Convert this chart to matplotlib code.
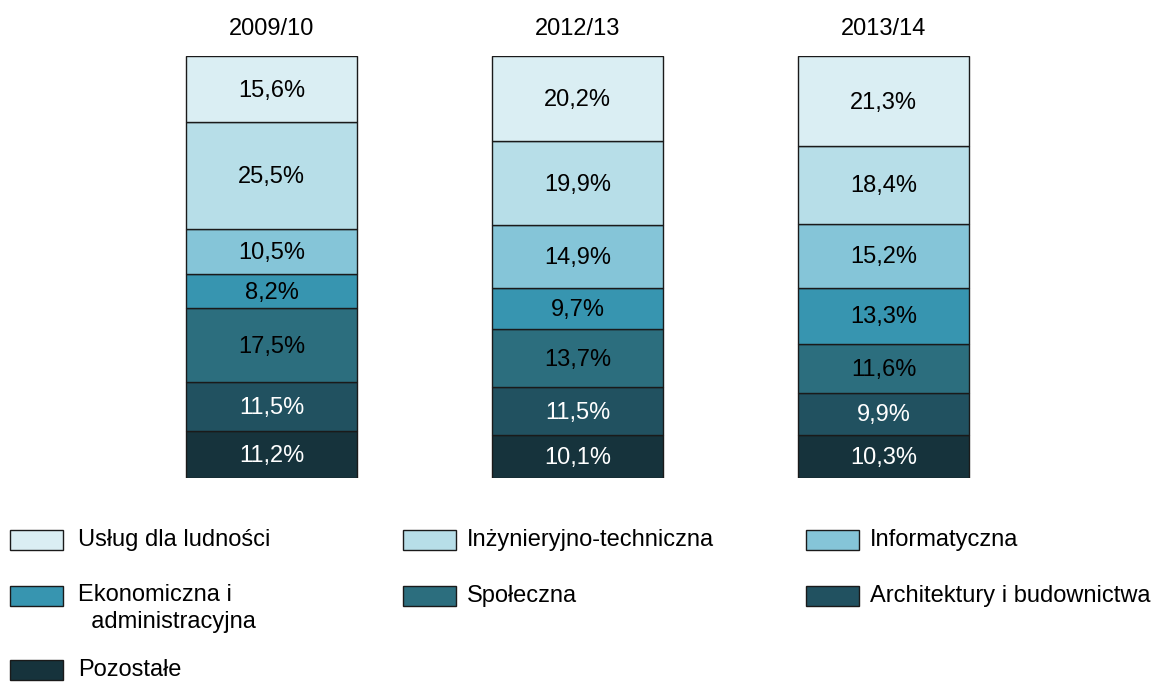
import matplotlib.pyplot as plt
from matplotlib.patches import Rectangle

plt.rcParams['font.family'] = ['Liberation Sans', 'DejaVu Sans']

years = ["2009/10", "2012/13", "2013/14"]
# bottom to top
categories = [
    "Pozostałe",
    "Architektury i budownictwa",
    "Społeczna",
    "Ekonomiczna i\n  administracyjna",
    "Informatyczna",
    "Inżynieryjno-techniczna",
    "Usług dla ludności",
]
values = [
    [11.2, 10.1, 10.3],
    [11.5, 11.5, 9.9],
    [17.5, 13.7, 11.6],
    [8.2, 9.7, 13.3],
    [10.5, 14.9, 15.2],
    [25.5, 19.9, 18.4],
    [15.6, 20.2, 21.3],
]
colors = ["#16333c", "#215160", "#2c6e7e", "#3795b0", "#85c5d8", "#b7dee8", "#daeef3"]
text_colors = ["white", "white", "black", "black", "black", "black", "black"]

W, H = 1155, 682
fig = plt.figure(figsize=(W / 100, H / 100), dpi=100)


def fx(px):
    return px / W


def fy(py):
    return 1 - py / H


ax = fig.add_axes([fx(118.5), fy(478), fx(918), 422 / H])
x = list(range(len(years)))
bottom = [0.0] * len(years)
for vals, col, tcol in zip(values, colors, text_colors):
    ax.bar(x, vals, width=0.56, bottom=bottom, color=col,
           edgecolor="#1a1a1a", linewidth=1)
    for i, v in enumerate(vals):
        ax.text(x[i], bottom[i] + v / 2 - 0.4, f"{v:.1f}%".replace(".", ","),
                ha="center", va="center", fontsize=17, color=tcol)
    bottom = [b + v for b, v in zip(bottom, vals)]

for i, y in enumerate(years):
    ax.text(x[i], 106.5, y, ha="center", va="center", fontsize=17)

ax.set_xlim(-0.5, 2.5)
ax.set_ylim(0, 100)
ax.axis("off")

# legend, drawn by hand in three columns
legend_order = [6, 5, 4, 3, 2, 1, 0]
col_x = [10, 403, 806]
row_y = [540, 596, 670]
for k, idx in enumerate(legend_order):
    cx = col_x[k % 3]
    cy = row_y[k // 3]
    fig.add_artist(Rectangle((fx(cx), fy(cy + 10)), fx(53), 20 / H,
                             facecolor=colors[idx], edgecolor="#1a1a1a",
                             linewidth=1, transform=fig.transFigure))
    name = categories[idx]
    tx = cx + (68 if k % 3 == 0 else 64)
    if "\n" in name:
        fig.text(fx(tx), fy(cy - 12), name, ha="left", va="top",
                 fontsize=17, linespacing=1.3)
    else:
        fig.text(fx(tx), fy(cy), name, ha="left", va="center", fontsize=17)

fig.savefig("out.png", dpi=100)
